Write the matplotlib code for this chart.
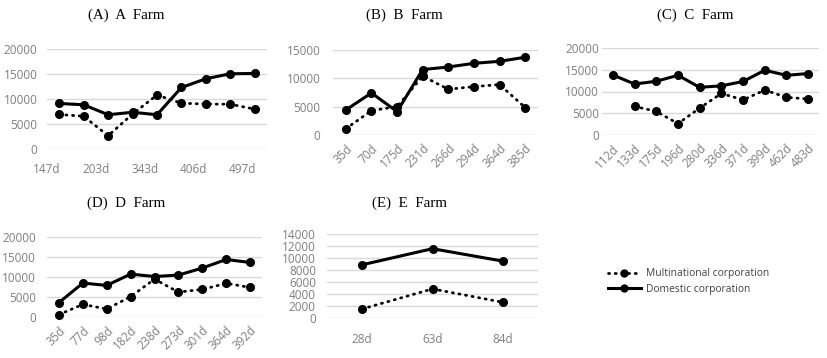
import numpy as np
import matplotlib
matplotlib.use("Agg")
import matplotlib.pyplot as plt
from matplotlib.lines import Line2D

# ---- data ----
a_labels = ['147d', '203d', '343d', '406d', '497d']
a_dom = [9100, 8850, 6850, 7350, 6850, 12300, 14050, 15050, 15100]
a_mul = [6900, 6550, 2650, 7000, 10800, 9150, 9000, 8950, 7980]

b_labels = ['35d', '70d', '175d', '231d', '266d', '294d', '364d', '385d']
b_dom = [4420, 7420, 4130, 11550, 12000, 12650, 13000, 13720]
b_mul = [1100, 4300, 5000, 10380, 8070, 8540, 8900, 4840]

c_labels = ['112d', '133d', '175d', '196d', '280d', '336d', '371d', '399d', '462d', '483d']
c_dom = [13800, 11720, 12350, 13720, 10960, 11300, 12300, 14880, 13720, 14130]
c_mul = [np.nan, 6580, 5420, 2620, 6180, 9560, 8060, 10330, 8660, 8280]

d_labels = ['35d', '77d', '98d', '182d', '238d', '273d', '301d', '364d', '392d']
d_dom = [3600, 8480, 7900, 10720, 10120, 10480, 12230, 14380, 13630]
d_mul = [600, 3150, 2000, 5080, 9460, 6230, 6900, 8400, 7400]

e_labels = ['28d', '63d', '84d']
e_dom = [8870, 11550, 9480]
e_mul = [1510, 4850, 2620]

titles = ['(A)  A  Farm', '(B)  B  Farm', '(C)  C  Farm', '(D)  D  Farm', '(E)  E  Farm']
legend_labels = ['Multinational corporation', 'Domestic corporation']

# ---- style ----
W, H = 827, 358
fig = plt.figure(figsize=(W / 100, H / 100), dpi=100)
TICK_C = '#7f7f7f'
GRID_C = '#d9d9d9'
SANS = ['Open Sans', 'DejaVu Sans']
SERIF = ['Liberation Serif', 'DejaVu Serif']
dot_ls = (0, (0.4, 2.0))
TSIZE = 8.5


def make_axes(x0, x1, y_top, y_bot):
    return fig.add_axes([x0 / W, 1 - y_bot / H, (x1 - x0) / W, (y_bot - y_top) / H])


def draw(ax, dom, mul, ymax, ystep, ypad):
    x = np.arange(len(dom))
    ax.plot(x, mul, color='black', lw=2.0, ls=dot_ls, dash_capstyle='round',
            marker='o', ms=5.5, clip_on=False, zorder=3)
    ax.plot(x, dom, color='black', lw=2.2, marker='o', ms=5.5, clip_on=False, zorder=4)
    ax.set_xlim(-0.5, len(dom) - 0.5)
    ax.set_ylim(0, ymax)
    ax.set_yticks(np.arange(0, ymax + 1, ystep))
    ax.grid(axis='y', color=GRID_C, lw=1)
    ax.set_axisbelow(True)
    for s in ax.spines.values():
        s.set_visible(False)
    ax.tick_params(length=0, colors=TICK_C, labelsize=TSIZE)
    ax.tick_params(axis='y', pad=ypad)
    for lab in ax.get_yticklabels():
        lab.set_fontfamily(SANS)


def set_rot_xticks(ax, labels):
    ax.set_xticks(np.arange(len(labels)))
    ax.set_xticklabels(labels, rotation=45, ha='right', va='top',
                       rotation_mode='anchor', family=SANS, fontsize=TSIZE, color=TICK_C)
    ax.tick_params(axis='x', pad=5)


# A
axA = make_axes(47, 267, 49, 149)
draw(axA, a_dom, a_mul, 20000, 5000, 7)
axA.set_xticks(np.arange(len(a_labels)) * 2 - 0.5)
axA.set_xticklabels(a_labels, family=SANS, fontsize=TSIZE, color=TICK_C)
axA.tick_params(axis='x', pad=10)

# B
axB = make_axes(333, 538, 50, 135)
draw(axB, b_dom, b_mul, 15000, 5000, 9)
set_rot_xticks(axB, b_labels)

# C
axC = make_axes(602, 819, 48, 135)
draw(axC, c_dom, c_mul, 20000, 5000, 2)
set_rot_xticks(axC, c_labels)

# D
axD = make_axes(47, 262, 237, 317)
draw(axD, d_dom, d_mul, 20000, 5000, 8)
set_rot_xticks(axD, d_labels)

# E
axE = make_axes(327, 538, 234, 318)
draw(axE, e_dom, e_mul, 14000, 2000, 8)
axE.set_xticks(np.arange(len(e_labels)))
axE.set_xticklabels(e_labels, family=SANS, fontsize=TSIZE, color=TICK_C)
axE.tick_params(axis='x', pad=11)

# titles
for t, (cx, cy) in zip(titles, [(126, 15), (404, 15), (695, 15), (126, 203), (409, 203)]):
    fig.text(cx / W, 1 - cy / H, t, ha='center', va='center',
             family=SERIF, fontsize=10.8, color='black')

# legend
handles = [
    Line2D([], [], color='black', lw=2.0, ls=dot_ls, dash_capstyle='round', marker='o', ms=5),
    Line2D([], [], color='black', lw=2.2, marker='o', ms=5),
]
fig.legend(handles, legend_labels, loc='center left',
           bbox_to_anchor=(608 / W, 1 - 281.5 / H), frameon=False,
           handlelength=3.2, handletextpad=0.45, labelspacing=0.45,
           borderpad=0, borderaxespad=0,
           prop={'family': SANS, 'size': 7.4}, labelcolor='#404040')

fig.savefig('out.png', dpi=100)
